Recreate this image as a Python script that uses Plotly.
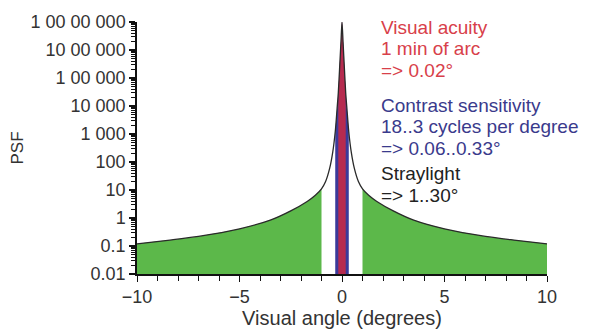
import plotly.graph_objects as go

# ---- data ----
angle = [-10, -8.5, -7, -5, -3.5, -2.5, -1.7, -1.3, -1, -0.8, -0.6, -0.45, -0.33, -0.24, -0.18, -0.12, -0.05, 0,
         0.05, 0.12, 0.18, 0.24, 0.33, 0.45, 0.6, 0.8, 1, 1.3, 1.7, 2.5, 3.5, 5, 7, 8.5, 10]
psf = [0.12, 0.16, 0.22, 0.41, 0.84, 1.8, 3.9, 6.5, 11, 20, 60, 230, 1200, 8000, 3e4, 2e5, 2e6, 1e7,
       2e6, 2e5, 3e4, 8000, 1200, 230, 60, 20, 11, 6.5, 3.9, 1.8, 0.84, 0.41, 0.22, 0.16, 0.12]

straylight_left = (-10, -1)
straylight_right = (1, 10)
contrast_band = (-0.33, 0.33)
acuity_band = (-0.18, 0.18)

y_tickvals = [0.01, 0.1, 1, 10, 100, 1000, 1e4, 1e5, 1e6, 1e7]
y_ticktext = ["0.01", "0.1", "1", "10", "100", "1 000", "10 000", "1 00 000", "10 00 000", "1 00 00 000"]
x_tickvals = [-10, -5, 0, 5, 10]
y_min = 0.01

GREEN = "#5cb84a"
BLUE = "#3b3a9a"
RED = "rgba(214,40,60,0.8)"
FONT = "Liberation Sans, Arial, sans-serif"

fig = go.Figure()


def band(lo, hi, color):
    xs = [a for a in angle if lo <= a <= hi]
    ys = [p for a, p in zip(angle, psf) if lo <= a <= hi]
    fig.add_trace(go.Scatter(x=xs, y=[y_min] * len(xs), mode="lines",
                             line=dict(width=0), hoverinfo="skip", showlegend=False))
    fig.add_trace(go.Scatter(x=xs, y=ys, mode="lines", fill="tonexty", fillcolor=color,
                             line=dict(width=0, shape="spline", smoothing=0.8),
                             hoverinfo="skip", showlegend=False))


band(*straylight_left, GREEN)
band(*straylight_right, GREEN)
band(*contrast_band, BLUE)
band(*acuity_band, RED)

fig.add_trace(go.Scatter(x=angle, y=psf, mode="lines",
                         line=dict(color="#2a2a2a", width=1.3, shape="spline", smoothing=0.8),
                         showlegend=False))

ann = [
    ("Visual acuity", 27, "#d8404a"),
    ("1 min of arc", 48.5, "#d8404a"),
    ("=> 0.02°", 70.5, "#d8404a"),
    ("Contrast sensitivity", 105.5, "#3a3a8c"),
    ("18..3 cycles per degree", 127, "#3a3a8c"),
    ("=> 0.06..0.33°", 148.5, "#3a3a8c"),
    ("Straylight", 173.5, "#222222"),
    ("=> 1..30°", 195.5, "#222222"),
]
for text, ypx, col in ann:
    fig.add_annotation(text=text, xref="paper", yref="paper",
                       x=(379 - 137) / 410, y=(274 - ypx) / 252,
                       xanchor="left", yanchor="middle", showarrow=False,
                       font=dict(family=FONT, size=19, color=col))

fig.update_layout(
    width=591, height=333,
    margin=dict(l=129, r=52, t=14, b=67, autoexpand=False),
    paper_bgcolor="white", plot_bgcolor="white",
    font=dict(family=FONT, size=17, color="#333333"),
    xaxis=dict(range=[-10, 10], tickvals=x_tickvals, showgrid=False, zeroline=False, automargin=False,
               showline=True, linecolor="#111111", linewidth=1.5,
               ticks="outside", ticklen=6, tickcolor="#111111", tickwidth=1.3,
               minor=dict(dtick=1, ticks="outside", ticklen=5, tickcolor="#111111", tickwidth=1.2, showgrid=False),
               tickfont=dict(size=18, color="#333333"),
               title=dict(text="Visual angle (degrees)", font=dict(size=20, color="#333333"), standoff=4)),
    yaxis=dict(type="log", range=[-2, 7], tickvals=y_tickvals, ticktext=y_ticktext, automargin=False,
               showgrid=False, zeroline=False, showline=True, linecolor="#111111", linewidth=1.5,
               ticks="outside", ticklen=6, tickcolor="#111111", tickwidth=1.5,
               minor=dict(dtick="D1", ticks="outside", ticklen=4, tickcolor="#111111", tickwidth=1, showgrid=False),
               tickfont=dict(size=18, color="#333333"),
               title=dict(text="PSF", font=dict(size=17, color="#333333"), standoff=4)),
)

fig.write_html("out.html")
